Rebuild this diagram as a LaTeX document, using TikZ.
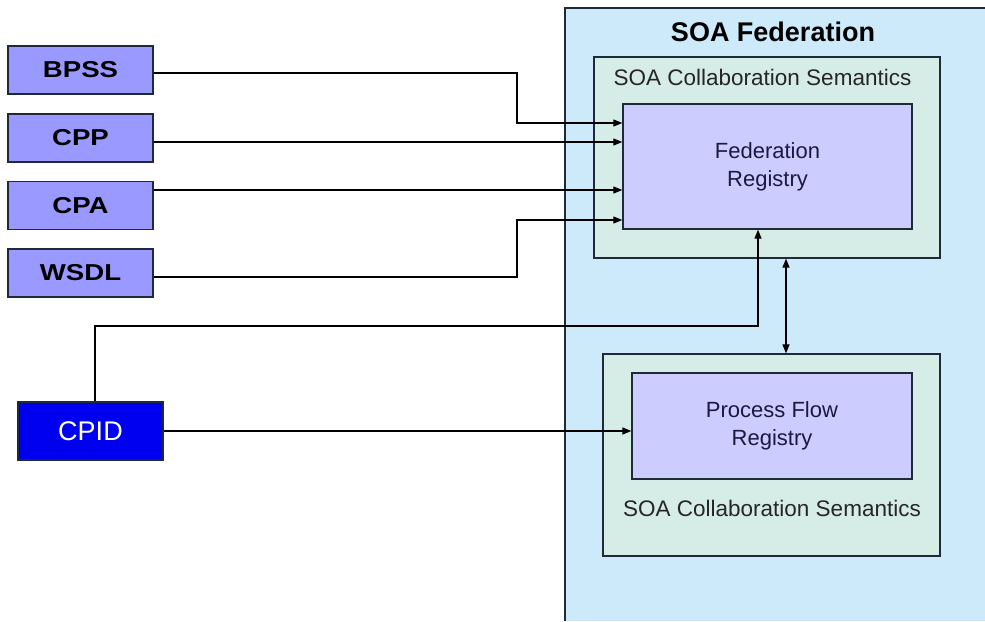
\documentclass[tikz,border=0pt]{standalone}
\usepackage{fontspec}
\setmainfont{Liberation Sans}
\newfontfamily\widesans[FakeStretch=1.2]{Liberation Sans}
\usetikzlibrary{arrows.meta}
\definecolor{fedblue}{HTML}{CCEAFA}
\definecolor{semfill}{HTML}{D6ECE6}
\definecolor{regfill}{HTML}{CCCCFF}
\definecolor{srcfill}{HTML}{9999FF}
\definecolor{cpidfill}{HTML}{0000F0}
\definecolor{edge}{HTML}{1E2A38}
\definecolor{ink}{HTML}{1A1A40}
\tikzset{
  x=1pt, y=-1pt,
  srcbox/.style={draw=edge, line width=1.3pt, fill=srcfill, minimum width=145pt,
    minimum height=48pt, inner sep=0pt, font=\widesans\fontsize{23}{26}\selectfont\bfseries},
  cpidbox/.style={draw=edge, line width=1.3pt, fill=cpidfill, minimum width=145pt,
    minimum height=58pt, inner sep=0pt, text=white, font=\fontsize{27}{30}\selectfont},
  sembox/.style={draw=edge, line width=1.3pt, fill=semfill, inner sep=0pt},
  regbox/.style={draw=edge, line width=1.3pt, fill=regfill, inner sep=0pt,
    align=center, text=ink, font=\fontsize{22}{28}\selectfont},
  semlabel/.style={text=black!85, font=\fontsize{22.5}{24}\selectfont, inner sep=0pt},
  conn/.style={draw=black, line width=1.1pt, -{Triangle[length=9pt,width=7pt]}},
  conn2/.style={draw=black, line width=1.1pt, {Triangle[length=9pt,width=7pt]}-{Triangle[length=9pt,width=7pt]}},
}
\begin{document}
\begin{tikzpicture}
  \useasboundingbox (0,0) rectangle (985,621);
  \fill[white] (0,0) rectangle (985,621);

  % federation area (open to the right and bottom)
  \fill[fedblue] (565,8) rectangle (985,621);
  \draw[edge, line width=1.3pt] (565,621) -- (565,8) -- (985,8);
  \node[font=\fontsize{27}{30}\selectfont\bfseries, inner sep=0pt] (title) at (773,32) {SOA Federation};

  % collaboration semantics containers
  \node[sembox, minimum width=346pt, minimum height=201pt] (sem1) at (767,157.5) {};
  \node[semlabel] (sem1lbl) at (762.5,77) {SOA Collaboration Semantics};
  \node[sembox, minimum width=337pt, minimum height=202pt] (sem2) at (771.5,455) {};
  \node[semlabel] (sem2lbl) at (772,508) {SOA Collaboration Semantics};

  % registries
  \node[regbox, minimum width=289pt, minimum height=125pt] (fed) at (767.5,166.5) {Federation\\Registry};
  \node[regbox, minimum width=280pt, minimum height=106pt] (pfr) at (772,426) {Process Flow\\Registry};

  % sources
  \node[srcbox] (bpss) at (80.5,70) {BPSS};
  \node[srcbox] (cpp)  at (80.5,138) {CPP};
  \node[srcbox] (cpa)  at (80.5,205.5) {CPA};
  \node[srcbox] (wsdl) at (80.5,273) {WSDL};
  \node[cpidbox] (cpid) at (90.5,431) {CPID};

  % connectors
  \draw[conn] (bpss.east |- 0,73) -| (517,123) -- (fed.west |- 0,123);
  \draw[conn] (cpp.east |- 0,142) -- (fed.west |- 0,142);
  \draw[conn] (cpa.east |- 0,190) -- (fed.west |- 0,190);
  \draw[conn] (wsdl.east |- 0,277) -| (517,220) -- (fed.west |- 0,220);
  \draw[conn] (cpid.north -| 95,0) |- (758,326) -- (fed.south -| 758,0);
  \draw[conn] (cpid.east) -- (pfr.west |- cpid.east);
  \draw[conn2] (sem1.south -| 786,0) -- (sem2.north -| 786,0);
\end{tikzpicture}
\end{document}
